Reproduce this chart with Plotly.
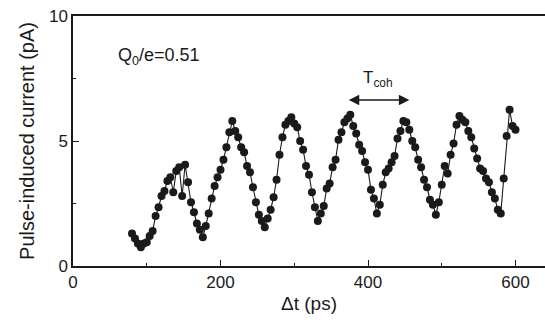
import plotly.graph_objects as go

# Delay time between pulses (ps)
delay_ps = [
    80, 84, 88, 92, 96, 100, 104, 108, 112, 116, 120, 124, 128, 132, 136, 140,
    144, 148, 152, 156, 160, 164, 168, 172, 176, 180, 184, 188, 192, 196, 200,
    204, 208, 212, 216, 220, 224, 228, 232, 236, 240, 244, 248, 252, 256, 260,
    264, 268, 272, 276, 280, 284, 288, 292, 296, 300, 304, 308, 312, 316, 320,
    324, 328, 332, 336, 340, 344, 348, 352, 356, 360, 364, 368, 372, 376, 380,
    384, 388, 392, 396, 400, 404, 408, 412, 416, 420, 424, 428, 432, 436, 440,
    444, 448, 452, 456, 460, 464, 468, 472, 476, 480, 484, 488, 492, 496, 500,
    504, 508, 512, 516, 520, 524, 528, 532, 536, 540, 544, 548, 552, 556, 560,
    564, 568, 572, 576, 580, 584, 588, 592, 596, 600,
]

# Pulse-induced current (pA)
current_pA = [
    1.30, 1.10, 0.90, 0.75, 0.90, 0.95, 1.20, 1.40, 2.00, 2.35, 2.80, 3.00, 3.40, 3.55, 2.95, 3.80,
    3.95, 2.80, 4.05, 3.35, 2.55, 2.15, 1.70, 1.45, 1.15, 1.60, 2.10, 2.70, 3.20, 3.55, 3.85,
    4.25, 4.75, 5.35, 5.80, 5.40, 5.15, 4.75, 4.55, 4.00, 3.75, 3.15, 2.55, 2.05, 1.80, 1.55,
    1.90, 2.25, 2.75, 3.45, 4.45, 5.15, 5.65, 5.80, 5.95, 5.70, 5.55, 5.00, 4.65, 4.00, 3.65,
    2.95, 2.35, 1.80, 2.10, 2.40, 3.10, 3.30, 3.95, 4.25, 5.05, 5.35, 5.75, 5.90, 6.05, 5.60,
    5.30, 4.85, 4.60, 4.15, 3.85, 3.05, 2.70, 2.10, 2.45, 3.25, 3.75, 3.90, 4.15, 4.40, 5.10,
    5.40, 5.80, 5.75, 5.45, 5.00, 4.75, 4.25, 3.95, 3.45, 3.15, 2.65, 2.45, 2.05, 2.55, 3.25,
    4.00, 3.70, 4.45, 4.90, 5.65, 6.00, 5.85, 5.75, 5.40, 5.15, 4.70, 4.30, 3.90, 3.80, 3.50,
    3.35, 2.95, 2.70, 2.25, 2.10, 3.50, 5.20, 6.25, 5.60, 5.45,
]

x_ticks = [0, 200, 400, 600]
y_ticks = [0, 5, 10]

font_family = "Liberation Sans, Arial, sans-serif"
ink = "#1a1a1a"

fig = go.Figure()
fig.add_trace(go.Scatter(
    x=delay_ps,
    y=current_pA,
    mode="lines+markers",
    line=dict(color=ink, width=1.1),
    marker=dict(color=ink, size=8),
    showlegend=False,
))

# Double-headed arrow marking one coherent oscillation period
fig.add_annotation(
    x=456, y=6.64, ax=372, ay=6.64,
    xref="x", yref="y", axref="x", ayref="y",
    text="", showarrow=True,
    arrowhead=2, startarrowhead=2, arrowside="end+start",
    arrowsize=1.3, startarrowsize=1.3, arrowwidth=1.6, arrowcolor=ink,
)
fig.add_annotation(
    x=414, y=7.5, xref="x", yref="y",
    text="T<sub>coh</sub>", showarrow=False,
    font=dict(family=font_family, size=17, color=ink),
)
fig.add_annotation(
    x=58, y=8.4, xref="x", yref="y", xanchor="left",
    text="Q<sub>0</sub>/e=0.51", showarrow=False,
    font=dict(family=font_family, size=18, color=ink),
)

axis_common = dict(
    showgrid=False,
    zeroline=False,
    showline=True,
    linecolor=ink,
    linewidth=1.5,
    ticks="inside",
    ticklen=6,
    tickwidth=1.3,
    tickcolor=ink,
    automargin=False,
    tickfont=dict(family=font_family, size=17, color=ink),
)

fig.update_xaxes(
    **axis_common,
    range=[0, 640],
    tickvals=x_ticks,
    mirror=True,
    minor=dict(tickvals=[100, 300, 500], ticklen=3, tickcolor=ink, ticks="inside"),
    title=dict(text="Δt (ps)", font=dict(family=font_family, size=19, color=ink), standoff=6),
)
fig.update_yaxes(
    **axis_common,
    range=[0, 10],
    tickvals=y_ticks,
    minor=dict(tickvals=[2.5, 7.5], ticklen=3, tickcolor=ink, ticks="inside"),
    title=dict(text="Pulse-induced current (pA)", font=dict(family=font_family, size=20, color=ink), standoff=9),
)

fig.update_layout(
    width=545,
    height=322,
    margin=dict(l=73, r=0, t=16, b=56),
    plot_bgcolor="white",
    paper_bgcolor="white",
)

fig.write_html("out.html")
